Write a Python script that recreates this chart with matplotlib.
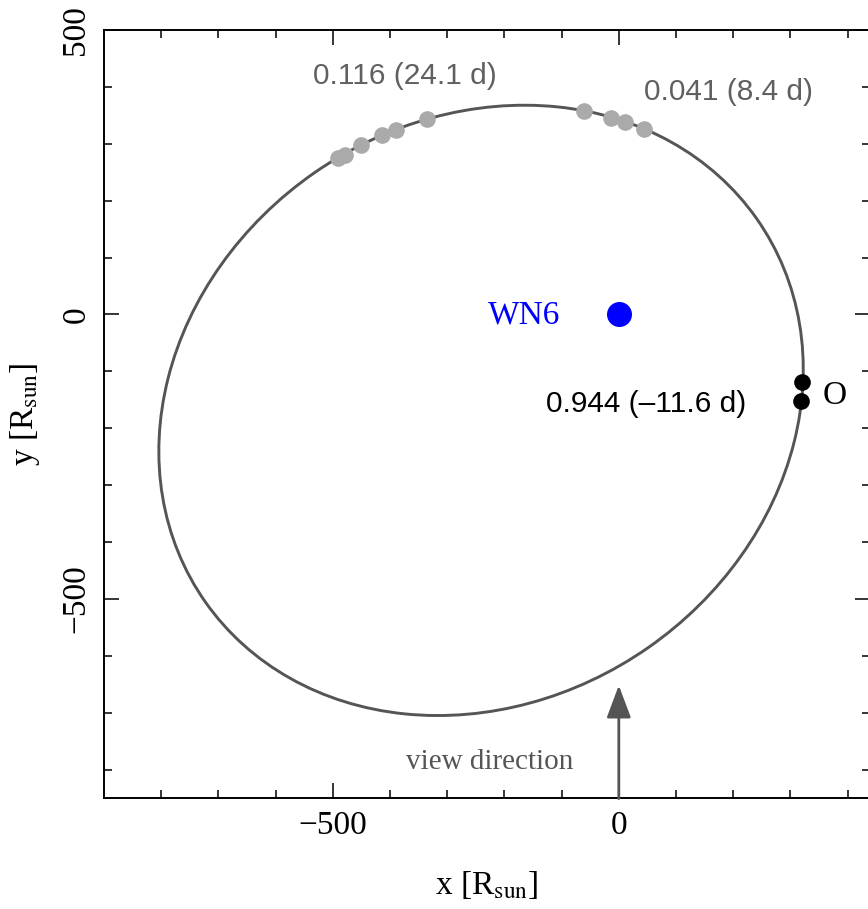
import numpy as np
import matplotlib
matplotlib.use('Agg')
from matplotlib import pyplot as plt
from matplotlib.patches import Ellipse

plt.rcParams['font.family'] = ['Liberation Serif', 'DejaVu Serif']
plt.rcParams['mathtext.fontset'] = 'stix'

# orbit of the O star relative to the WN6 star (focus at origin)
a_orb = 588.0      # semi-major axis [R_sun]
e_orb = 0.50       # eccentricity
omega_deg = 35.0   # direction of periastron [deg]

# observed positions, phases after periastron (grey)
grey_x = [-491, -479, -450, -414, -389, -336, -61, -13, 10, 44]
grey_y = [275, 281, 298, 315, 324, 343, 358, 346, 339, 326]
# phase 0.944 (black)
black_x = [321, 319]
black_y = [-118, -153]

phase_labels = ['0.116 (24.1 d)', '0.041 (8.4 d)', '0.944 (–11.6 d)']
phase_pos = [(-374, 420), (191, 391), (47, -157)]
phase_cols = ['#606060', '#606060', 'black']


def main():
    fig = plt.figure(figsize=(8.68, 9.09), dpi=100)
    ax = fig.add_axes([104 / 868, 1 - 798 / 909, 766.5 / 868, 768 / 909])

    # ellipse: centre is a*e away from the focus, opposite to periastron
    w = np.radians(omega_deg)
    cx = -a_orb * e_orb * np.cos(w)
    cy = -a_orb * e_orb * np.sin(w)
    b_orb = a_orb * np.sqrt(1 - e_orb ** 2)
    orbit = Ellipse((cx, cy), 2 * a_orb, 2 * b_orb, angle=omega_deg,
                    fill=False, edgecolor='#555555', linewidth=2.1, zorder=2)
    ax.add_patch(orbit)

    ax.plot(grey_x, grey_y, 'o', color='#aaaaaa', markersize=12, markeredgewidth=0, zorder=3)
    ax.plot(black_x, black_y, 'o', color='black', markersize=12, markeredgewidth=0, zorder=3)
    ax.plot([0], [0], 'o', color='blue', markersize=18, markeredgewidth=0, zorder=3)

    for txt, (tx, ty), c in zip(phase_labels, phase_pos, phase_cols):
        ax.text(tx, ty, txt, color=c, fontsize=21.5, ha='center', va='center',
                family=['Liberation Sans', 'DejaVu Sans'])
    ax.text(-166, -2, 'WN6', color='blue', fontsize=24, ha='center', va='center')
    ax.text(378, -143, 'O', color='black', fontsize=24, ha='center', va='center')

    # view direction arrow
    ax.annotate('', xy=(0, -652), xytext=(0, -851),
                arrowprops=dict(arrowstyle='-|>,head_length=2.0,head_width=0.75',
                                color='#555555', linewidth=2.0,
                                shrinkA=0, shrinkB=0))
    ax.text(-226, -786, 'view direction', color='#555555', fontsize=21,
            ha='center', va='center')

    ax.set_xlim(-900, 440)
    ax.set_ylim(-850, 500)
    ax.set_xticks([-500, 0])
    ax.set_yticks([-500, 0, 500])
    ax.set_xticks(np.arange(-800, 500, 100), minor=True)
    ax.set_yticks(np.arange(-800, 500, 100), minor=True)
    ax.tick_params(which='both', direction='in', top=True, right=True,
                   labelsize=24, width=1.1, pad=9)
    ax.tick_params(which='major', length=11)
    ax.tick_params(which='minor', length=5.5)
    for lab in ax.get_yticklabels():
        lab.set_rotation(90)
        lab.set_va('center')
    for sp in ax.spines.values():
        sp.set_linewidth(1.4)

    ax.set_xlabel(r'x [R$_{\rm sun}$]', fontsize=24, labelpad=20)
    ax.set_ylabel(r'y [R$_{\rm sun}$]', fontsize=24, labelpad=14)

    plt.savefig('out.png', dpi=100)


if __name__ == '__main__':
    main()
